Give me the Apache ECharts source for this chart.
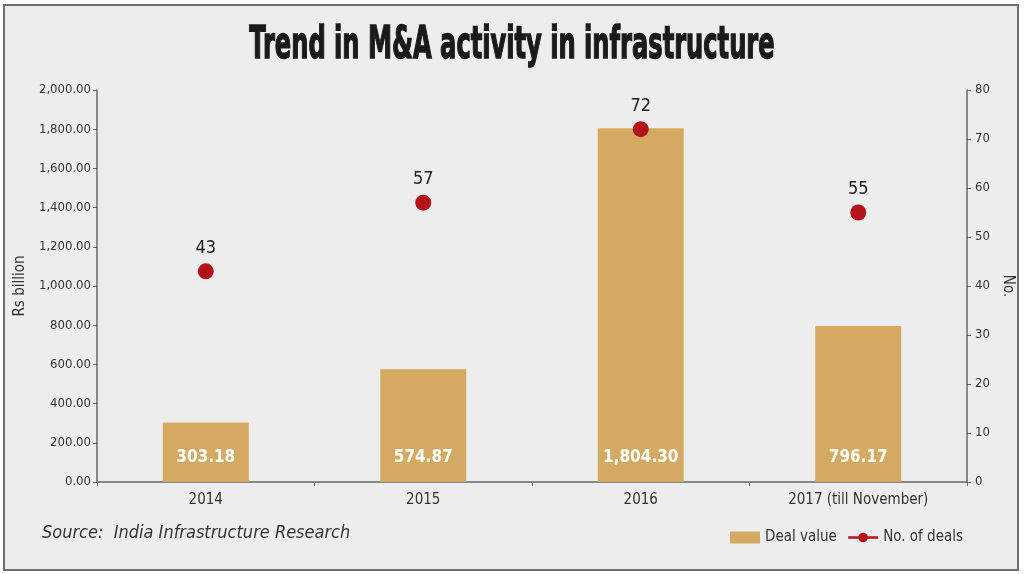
<!DOCTYPE html>
<html>
<head>
<meta charset="utf-8">
<script src="https://cdn.jsdelivr.net/npm/echarts@6/dist/echarts.min.js"></script>
<style>
  html, body { margin: 0; padding: 0; background: #ffffff; }
  #chart { width: 1024px; height: 574px; }
</style>
</head>
<body>
<div id="chart"></div>
<script>
// categories and values
var years = ['2014', '2015', '2016', '2017 (till November)'];
var dealValue = [303.18, 574.87, 1804.30, 796.17];
var dealCount = [43, 57, 72, 55];

var narrow = '"Liberation Sans Narrow", "DejaVu Sans Condensed", sans-serif';

var chart = echarts.init(document.getElementById('chart'));

function fmtMoney(v) {
    return v.toLocaleString('en-US', { minimumFractionDigits: 2, maximumFractionDigits: 2 });
}

var option = {
    backgroundColor: '#ffffff',
    animation: false,
    textStyle: { fontFamily: narrow },
    graphic: [
        // panel with frame
        {
            type: 'rect',
            shape: { x: 4, y: 5, width: 1014, height: 565 },
            style: { fill: '#eeedee', stroke: '#6e6e6e', lineWidth: 2 },
            z: -10
        },
        {
            type: 'text',
            x: 512, y: 47,
            scaleX: 0.61,
            style: {
                text: 'Trend in M&A activity in infrastructure',
                font: 'bold 44px ' + narrow,
                fill: '#1a1a1a',
                stroke: '#1a1a1a',
                lineWidth: 1.4,
                textAlign: 'center',
                textVerticalAlign: 'middle'
            }
        },
        {
            type: 'text',
            x: 42, y: 533,
            style: {
                text: 'Source:  India Infrastructure Research',
                font: 'italic 18px ' + narrow,
                fill: '#333333',
                textAlign: 'left',
                textVerticalAlign: 'middle'
            }
        }
    ],
    legend: {
        right: 56,
        top: 525,
        itemWidth: 30,
        itemHeight: 12,
        itemGap: 10,
        textStyle: { fontSize: 15, color: '#333333', fontFamily: narrow },
        data: [
            { name: 'Deal value', icon: 'rect' },
            { name: 'No. of deals', lineStyle: { opacity: 1, width: 2.5, color: '#b5121b' } }
        ]
    },
    grid: { left: 97, right: 57, top: 90, bottom: 92 },
    xAxis: {
        type: 'category',
        data: years,
        axisLine: { lineStyle: { color: '#666666', width: 1.5 } },
        axisTick: { show: true, length: 4, lineStyle: { color: '#666666' } },
        axisLabel: { color: '#333333', fontSize: 15, margin: 11, fontFamily: narrow }
    },
    yAxis: [
        {
            type: 'value',
            min: 0, max: 2000, interval: 200,
            name: 'Rs billion',
            nameLocation: 'middle',
            nameGap: 52,
            nameTextStyle: { color: '#333333', fontSize: 15, fontFamily: narrow },
            axisLine: { show: true, lineStyle: { color: '#666666', width: 1.5 } },
            axisTick: { show: true, length: 4, lineStyle: { color: '#666666' } },
            axisLabel: { color: '#333333', fontSize: 13, margin: 6, formatter: fmtMoney, fontFamily: narrow },
            splitLine: { show: false }
        },
        {
            type: 'value',
            min: 0, max: 80, interval: 10,
            name: 'No.',
            nameLocation: 'middle',
            nameRotate: -90,
            nameGap: 22,
            nameTextStyle: { color: '#333333', fontSize: 15, fontFamily: narrow },
            axisLine: { show: true, lineStyle: { color: '#666666', width: 1.5 } },
            axisTick: { show: true, length: 4, lineStyle: { color: '#666666' } },
            axisLabel: { color: '#333333', fontSize: 13, margin: 8, fontFamily: narrow },
            splitLine: { show: false }
        }
    ],
    series: [
        {
            name: 'Deal value',
            type: 'bar',
            data: dealValue,
            barWidth: 86,
            itemStyle: { color: '#d4aa63' },
            label: {
                show: true,
                position: 'insideBottom',
                distance: 16,
                color: '#ffffff',
                fontSize: 17,
                fontWeight: 'bold',
                fontFamily: narrow,
                formatter: function (p) { return fmtMoney(p.value); }
            }
        },
        {
            name: 'No. of deals',
            type: 'line',
            yAxisIndex: 1,
            data: dealCount,
            symbol: 'circle',
            symbolSize: 16,
            itemStyle: { color: '#b5121b' },
            lineStyle: { opacity: 0 },
            label: {
                show: true,
                position: 'top',
                distance: 6,
                color: '#222222',
                fontSize: 18,
                fontFamily: narrow
            }
        }
    ]
};

chart.setOption(option);
</script>
</body>
</html>
